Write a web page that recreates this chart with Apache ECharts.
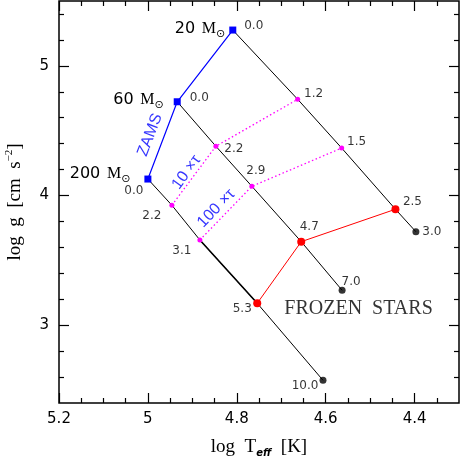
<!DOCTYPE html>
<html>
<head>
<meta charset="utf-8">
<script src="https://cdn.jsdelivr.net/npm/echarts@6/dist/echarts.min.js"></script>
<style>
html,body{margin:0;padding:0;background:#fff;}
#chart{width:460px;height:460px;}
</style>
</head>
<body>
<div id="chart"></div>
<script>
// ---------------- DATA ----------------
const massNames = ['200', '60', '20'];
const zamsTeff = [5.000, 4.934, 4.809];
const zamsLogg = [4.127, 4.723, 5.276];

const track20Teff = [4.809, 4.663, 4.564, 4.443, 4.397];
const track20Logg = [5.276, 4.742, 4.366, 3.894, 3.721];
const track20Labels = ['0.0', '1.2', '1.5', '2.5', '3.0'];

const track60Teff = [4.934, 4.847, 4.766, 4.655, 4.563];
const track60Logg = [4.723, 4.380, 4.071, 3.644, 3.269];
const track60Labels = ['0.0', '2.2', '2.9', '4.7', '7.0'];

const track200Teff = [5.000, 4.946, 4.883, 4.754, 4.606];
const track200Logg = [4.127, 3.925, 3.657, 3.169, 2.575];
const track200Labels = ['0.0', '2.2', '3.1', '5.3', '10.0'];

const xMajorTicks = [4.4, 4.6, 4.8, 5.0, 5.2];
const xMinorTicks = [4.35, 4.45, 4.5, 4.55, 4.65, 4.7, 4.75, 4.85, 4.9, 4.95, 5.05, 5.1, 5.15];
const yMajorTicks = [3, 4, 5];
const yMinorTicks = [2.6, 2.8, 3.2, 3.4, 3.6, 3.8, 4.2, 4.4, 4.6, 4.8, 5.2, 5.4];

const annoText = ['ZAMS', '10 ×τ', '100 ×τ', 'FROZEN  STARS'];
const annoTeff = [4.995, 4.913, 4.846, 4.526];
const annoLogg = [4.467, 4.179, 3.901, 3.129];

// ---------------- LAYOUT / STYLE ----------------
const SANS = 'DejaVu Sans';
const SERIF = 'Liberation Serif';
const X_MIN = 4.3, X_MAX = 5.2, Y_MIN = 2.4, Y_MAX = 5.5;

// label offsets (px) of the number labels relative to their point
const off20 = [[21, -4], [16, -5], [15, -6], [17, -7], [16, 0]];
const off60 = [[22, -4], [18, 3], [4, -15], [8, -15], [9, -8]];
const off200 = [[-14, 12], [-20, 11], [-18, 11], [-15, 6], [-18, 6]];
const massLabelLayout = [ // [distance, dy]
  [14, -5], [10, -2], [4, -1]
];
const annoStyle = [
  {rotate: 69, fontFamily: 'Liberation Sans', fontSize: 16, color: '#0000ff'},
  {rotate: 54, fontFamily: 'Liberation Sans', fontSize: 16, color: '#0000ff'},
  {rotate: 46, fontFamily: 'Liberation Sans', fontSize: 16, color: '#0000ff'},
  {rotate: 0, fontFamily: SERIF, fontSize: 20, color: '#000'}
];

function pts(xs, ys) { return xs.map((x, i) => [x, ys[i]]); }
const t20 = pts(track20Teff, track20Logg);
const t60 = pts(track60Teff, track60Logg);
const t200 = pts(track200Teff, track200Logg);

function fmt(v) { return String(+(+v).toFixed(2)); }

function xAxisDef(pos, ticks, len, withLabel) {
  return {
    type: 'value', position: pos, min: X_MIN, max: X_MAX, inverse: true,
    axisLine: {show: false}, splitLine: {show: false},
    axisTick: {show: true, inside: true, length: len, customValues: ticks,
               lineStyle: {color: '#000', width: 1.2}},
    axisLabel: withLabel ? {show: true, customValues: ticks, formatter: fmt, margin: 9,
               fontFamily: SANS, fontSize: 15, color: '#000'} : {show: false},
    name: withLabel ? '{a|log  T}{sub|eff}{a|  [K]}' : '',
    nameLocation: 'middle', nameGap: 33,
    nameTextStyle: {rich: {
      a: {fontFamily: SERIF, fontSize: 19, color: '#000', lineHeight: 22},
      sub: {fontFamily: SANS, fontSize: 10, fontStyle: 'italic', fontWeight: 'bold', color: '#000',
            verticalAlign: 'bottom', lineHeight: 22}
    }}
  };
}
function yAxisDef(pos, ticks, len, withLabel) {
  return {
    type: 'value', position: pos, min: Y_MIN, max: Y_MAX,
    axisLine: {show: false}, splitLine: {show: false},
    axisTick: {show: true, inside: true, length: len, customValues: ticks,
               lineStyle: {color: '#000', width: 1.2}},
    axisLabel: withLabel ? {show: true, customValues: ticks, formatter: fmt, margin: 10,
               fontFamily: SANS, fontSize: 15, color: '#000'} : {show: false},
    name: withLabel ? '{a|log  g  [cm  s}{sup|−2}{a|]}' : '',
    nameLocation: 'middle', nameGap: 33, nameRotate: 90,
    nameTextStyle: {rich: {
      a: {fontFamily: SERIF, fontSize: 19, color: '#000', lineHeight: 22},
      sup: {fontFamily: SERIF, fontSize: 11, color: '#000', verticalAlign: 'top', lineHeight: 22}
    }}
  };
}

function numberLabels(points, labels, offs) {
  return points.map((p, i) => ({
    value: p,
    label: {show: true, formatter: labels[i], position: 'inside', offset: offs[i]}
  }));
}

const massRich = {
  n: {fontFamily: SANS, fontSize: 16, color: '#000', lineHeight: 22},
  m: {fontFamily: SERIF, fontSize: 16, color: '#000', lineHeight: 22},
  s: {fontFamily: SANS, fontSize: 11, color: '#000', lineHeight: 20, verticalAlign: 'bottom'}
};

const option = {
  animation: false,
  backgroundColor: '#fff',
  grid: {left: 59, right: 1, top: 1, bottom: 57, show: true, borderColor: '#000', borderWidth: 1.5,
         backgroundColor: 'transparent', outerBoundsMode: 'none', containLabel: false},
  xAxis: [
    xAxisDef('bottom', xMajorTicks, 10, true),
    xAxisDef('bottom', xMinorTicks, 5, false),
    xAxisDef('top', xMajorTicks, 10, false),
    xAxisDef('top', xMinorTicks, 5, false)
  ],
  yAxis: [
    yAxisDef('left', yMajorTicks, 10, true),
    yAxisDef('left', yMinorTicks, 5, false),
    yAxisDef('right', yMajorTicks, 10, false),
    yAxisDef('right', yMinorTicks, 5, false)
  ],
  series: [
    // evolutionary tracks
    {type: 'line', data: t20, symbol: 'none', lineStyle: {color: '#000', width: 1}, z: 2},
    {type: 'line', data: t60, symbol: 'none', lineStyle: {color: '#000', width: 1}, z: 2},
    {type: 'line', data: t200, symbol: 'none', lineStyle: {color: '#000', width: 1}, z: 2},
    {type: 'line', data: t200.slice(2, 4), symbol: 'none', lineStyle: {color: '#000', width: 1.6}, z: 2},
    // 10 x tau and 100 x tau isochrones
    {type: 'line', data: [t200[1], t60[1], t20[1]], symbol: 'circle', symbolSize: 5,
     itemStyle: {color: '#ff00ff'}, lineStyle: {color: '#ff00ff', width: 1.3, type: [1.5, 2.5]}, z: 3},
    {type: 'line', data: [t200[2], t60[2], t20[2]], symbol: 'circle', symbolSize: 5,
     itemStyle: {color: '#ff00ff'}, lineStyle: {color: '#ff00ff', width: 1.3, type: [1.5, 2.5]}, z: 3},
    // frozen (red)
    {type: 'line', data: [t200[3], t60[3], t20[3]], symbol: 'circle', symbolSize: 8,
     itemStyle: {color: '#ff0000'}, lineStyle: {color: '#ff0000', width: 1}, z: 3},
    // end points
    {type: 'scatter', data: [t200[4], t60[4], t20[4]], symbol: 'circle', symbolSize: 7,
     itemStyle: {color: '#000'}, z: 3},
    // ZAMS
    {type: 'line', data: pts(zamsTeff, zamsLogg).map((p, i) => ({
        value: p,
        label: {show: true, position: 'left', distance: massLabelLayout[i][0], offset: [0, massLabelLayout[i][1]],
                formatter: '{n|' + massNames[i] + '}  {m|M}{s|⊙}', rich: massRich}
      })),
     symbol: 'rect', symbolSize: 7, itemStyle: {color: '#0000ff'},
     lineStyle: {color: '#0000ff', width: 1.2}, z: 4},
    // number labels
    {type: 'scatter', symbolSize: 0, z: 5, silent: true,
     label: {fontFamily: SANS, fontSize: 12, color: '#000'},
     data: numberLabels(t20, track20Labels, off20)
       .concat(numberLabels(t60, track60Labels, off60))
       .concat(numberLabels(t200, track200Labels, off200))},
    // text annotations
    {type: 'scatter', symbolSize: 0, z: 5, silent: true,
     data: annoText.map((t, i) => ({
       value: [annoTeff[i], annoLogg[i]],
       label: Object.assign({show: true, formatter: t, position: 'inside'}, annoStyle[i])
     }))}
  ]
};

const chart = echarts.init(document.getElementById('chart'), null, {renderer: 'canvas'});
chart.setOption(option);
</script>
</body>
</html>
